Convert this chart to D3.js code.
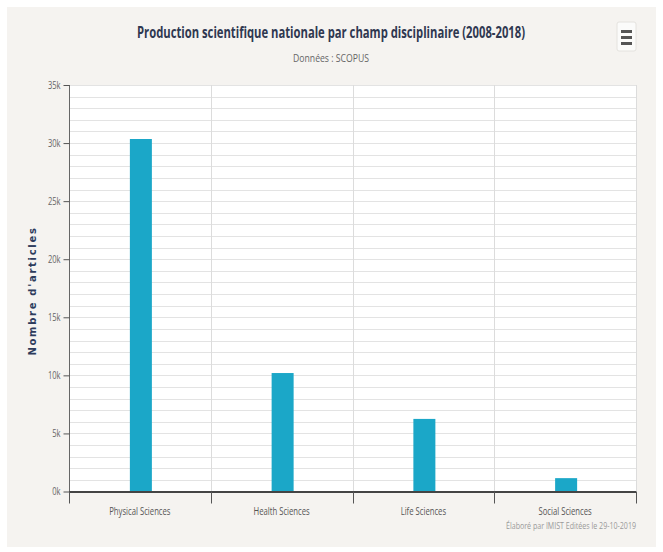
<!DOCTYPE html>
<html>
<head>
<meta charset="utf-8">
<script src="https://cdn.jsdelivr.net/npm/d3@7"></script>
<style>
  body { margin: 0; background: #fff; }
  svg { display: block; }
</style>
</head>
<body>
<div id="chart"></div>
<script>
var categories = ["Physical Sciences", "Health Sciences", "Life Sciences", "Social Sciences"];
var articles = [30350, 10200, 6250, 1150];
var yTicks = [0, 5000, 10000, 15000, 20000, 25000, 30000, 35000];
var yTickLabels = ["0k", "5k", "10k", "15k", "20k", "25k", "30k", "35k"];

var width = 663, height = 552;
var plot = { left: 69, right: 636, top: 85, bottom: 491.5 };
var font = "'Open Sans', 'DejaVu Sans', sans-serif";

var svg = d3.select("#chart").append("svg")
  .attr("width", width)
  .attr("height", height);

// squeeze a text horizontally, the reference uses a condensed face
function narrow(sel, factor) {
  sel.each(function() {
    var len = this.getComputedTextLength();
    d3.select(this)
      .attr("textLength", len * factor)
      .attr("lengthAdjust", "spacingAndGlyphs");
  });
}

// background box
svg.append("rect")
  .attr("x", 7).attr("y", 7)
  .attr("width", width - 14).attr("height", height - 12)
  .attr("fill", "#f5f3f0");

svg.append("rect")
  .attr("x", plot.left).attr("y", plot.top)
  .attr("width", plot.right - plot.left).attr("height", plot.bottom - plot.top)
  .attr("fill", "#fff");

var x = d3.scaleBand()
  .domain(categories)
  .range([plot.left, plot.right])
  .paddingInner(0)
  .paddingOuter(0);

var y = d3.scaleLinear()
  .domain([0, 35000])
  .range([plot.bottom, plot.top]);

// minor grid, every 1k
svg.append("g")
  .selectAll("line")
  .data(d3.range(0, 35001, 1000))
  .enter().append("line")
  .attr("x1", plot.left).attr("x2", plot.right)
  .attr("y1", function(d) { return Math.round(y(d)) + 0.5; })
  .attr("y2", function(d) { return Math.round(y(d)) + 0.5; })
  .attr("stroke", "#e3e3e3")
  .attr("stroke-width", 1);

// vertical category separators
var bounds = categories.map(function(c) { return x(c); }).concat([plot.right]);
svg.append("g")
  .selectAll("line")
  .data(bounds)
  .enter().append("line")
  .attr("x1", function(d) { return Math.round(d) + 0.5; })
  .attr("x2", function(d) { return Math.round(d) + 0.5; })
  .attr("y1", plot.top).attr("y2", plot.bottom)
  .attr("stroke", "#dcdcdc");

// bars
var barWidth = 22;
svg.append("g")
  .selectAll("rect")
  .data(articles)
  .enter().append("rect")
  .attr("x", function(d, i) { return x(categories[i]) + x.bandwidth() / 2 - barWidth / 2 + 1; })
  .attr("y", function(d) { return y(d); })
  .attr("width", barWidth)
  .attr("height", function(d) { return y(0) - y(d); })
  .attr("fill", "#1ba7c8");

// y axis
var yAxis = d3.axisLeft(y)
  .tickValues(yTicks)
  .tickFormat(function(d, i) { return yTickLabels[i]; })
  .tickSize(6)
  .tickPadding(3);

var gy = svg.append("g")
  .attr("transform", "translate(" + (plot.left + 0.5) + ",0)")
  .call(yAxis);
gy.select(".domain").attr("stroke", "#666").attr("d", "M0," + plot.top + "V" + plot.bottom);
gy.selectAll(".tick line").attr("stroke", "#555");
gy.selectAll(".tick text")
  .attr("fill", "#666")
  .style("font-family", font)
  .style("font-size", "10.5px")
  .call(narrow, 0.72);

// x axis
var xAxis = d3.axisBottom(x).tickSize(0).tickPadding(15);
var gx = svg.append("g")
  .attr("transform", "translate(0," + (plot.bottom + 0.5) + ")")
  .call(xAxis);
gx.select(".domain").attr("stroke", "#444").attr("stroke-width", 2)
  .attr("d", "M" + plot.left + ",0H" + plot.right);
gx.selectAll(".tick text")
  .attr("fill", "#555")
  .style("font-family", font)
  .style("font-size", "11px")
  .call(narrow, 0.7);

svg.append("g")
  .selectAll("line")
  .data(bounds)
  .enter().append("line")
  .attr("x1", function(d) { return Math.round(d) + 0.5; })
  .attr("x2", function(d) { return Math.round(d) + 0.5; })
  .attr("y1", plot.bottom).attr("y2", plot.bottom + 12)
  .attr("stroke", "#555");

// titles
svg.append("text")
  .attr("x", 331).attr("y", 38)
  .attr("text-anchor", "middle")
  .attr("fill", "#2f3850")
  .style("font-family", font)
  .style("font-size", "16px")
  .style("font-weight", "bold")
  .text("Production scientifique nationale par champ disciplinaire (2008-2018)")
  .attr("textLength", 388)
  .attr("lengthAdjust", "spacingAndGlyphs");

svg.append("text")
  .attr("x", 331).attr("y", 62)
  .attr("text-anchor", "middle")
  .attr("fill", "#666")
  .style("font-family", font)
  .style("font-size", "11px")
  .text("Données : SCOPUS")
  .attr("textLength", 76)
  .attr("lengthAdjust", "spacingAndGlyphs");

svg.append("text")
  .attr("transform", "translate(36,291) rotate(-90)")
  .attr("text-anchor", "middle")
  .attr("fill", "#2d3b5c")
  .style("font-family", "'DejaVu Sans', sans-serif")
  .style("font-size", "10px")
  .style("font-weight", "bold")
  .style("letter-spacing", "1.7px")
  .text("Nombre d'articles");

svg.append("text")
  .attr("x", plot.right).attr("y", 529)
  .attr("text-anchor", "end")
  .attr("fill", "#999")
  .style("font-family", font)
  .style("font-size", "9.5px")
  .text("Élaboré par IMIST Editées le 29-10-2019")
  .attr("textLength", 130)
  .attr("lengthAdjust", "spacingAndGlyphs");

// menu button
var menu = svg.append("g").attr("transform", "translate(617,22)");
menu.append("rect")
  .attr("width", 19).attr("height", 29).attr("rx", 2)
  .attr("fill", "#fbfbfa").attr("stroke", "#e4e2de");
[8, 14, 20].forEach(function(dy) {
  menu.append("rect")
    .attr("x", 4).attr("y", dy)
    .attr("width", 11).attr("height", 3)
    .attr("fill", "#555");
});
</script>
</body>
</html>
